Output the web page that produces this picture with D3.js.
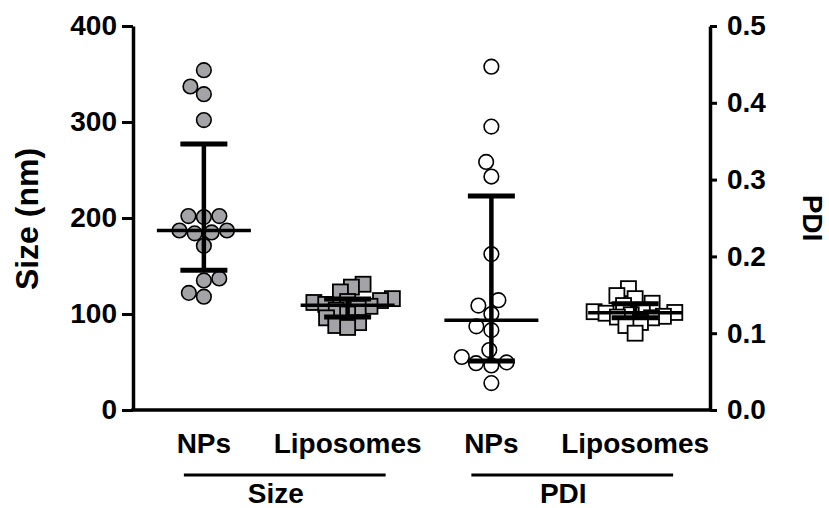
<!DOCTYPE html>
<html>
<head>
<meta charset="utf-8">
<script src="https://cdn.jsdelivr.net/npm/d3@7"></script>
<style>
    html, body { margin: 0; padding: 0; background: #fff; }
    svg text { font-family: "Liberation Sans", Arial, sans-serif; font-weight: bold; fill: #000; }
</style>
</head>
<body>
<svg id="chart" width="829" height="508"></svg>
<script>
// values
const categories = ["NPs", "Liposomes", "NPs", "Liposomes"];
const groups = ["Size", "PDI"];
const sizeNPs = [354, 337, 329, 302, 202, 202, 201, 187, 187, 185, 184, 171, 137, 135, 122, 118];
const sizeLiposomes = [131, 128, 123, 116, 114, 113, 112, 110, 108, 106, 104, 100, 96, 91, 88, 86];
const pdiNPs = [0.447, 0.369, 0.323, 0.304, 0.203, 0.143, 0.136, 0.125, 0.109, 0.104, 0.078, 0.069, 0.062, 0.061, 0.058, 0.035];
const pdiLiposomes = [0.158, 0.149, 0.145, 0.139, 0.136, 0.130, 0.128, 0.127, 0.126, 0.124, 0.122, 0.121, 0.120, 0.114, 0.110, 0.100];
const sizeTicks = [0, 100, 200, 300, 400];
const pdiTicks = [0, 0.1, 0.2, 0.3, 0.4, 0.5];

const svg = d3.select("#chart");

const x = d3.scalePoint().domain(d3.range(categories.length)).range([132, 707]).padding(0.5);
const ySize = d3.scaleLinear().domain([0, 400]).range([410, 26]);
const yPdi = d3.scaleLinear().domain([0, 0.5]).range([410, 26]);

const series = [
    { values: sizeNPs, y: ySize, shape: "circle", fill: "#a4a4a8" },
    { values: sizeLiposomes, y: ySize, shape: "square", fill: "#a4a4a8" },
    { values: pdiNPs, y: yPdi, shape: "circle", fill: "#fff" },
    { values: pdiLiposomes, y: yPdi, shape: "square", fill: "#fff" }
];

// quantile the way Prism does it: position (n + 1) * p
function quantile(values, p) {
    const s = values.slice().sort((a, b) => a - b),
        pos = (s.length + 1) * p - 1,
        lo = Math.max(0, Math.floor(pos)),
        hi = Math.min(s.length - 1, lo + 1);
    return s[lo] + (s[hi] - s[lo]) * (pos - lo);
}

// simple beeswarm, offsets in px from the category centre
function swarm(ys, dist) {
    const order = ys.map((y, i) => i).sort((a, b) => ys[b] - ys[a]),
        placed = [],
        out = new Array(ys.length);

    order.forEach(i => {
        const y = ys[i];
        const near = placed.filter(p => Math.abs(p.y - y) < dist);
        let cands = [0];
        near.forEach(p => {
            const w = Math.sqrt(dist * dist - (p.y - y) * (p.y - y));
            cands.push(p.x + w, p.x - w);
        });
        cands.sort((a, b) => Math.abs(a) - Math.abs(b) || a - b);
        const ok = cands.find(c => near.every(p => Math.hypot(p.x - c, p.y - y) >= dist - 0.01));
        out[i] = ok;
        placed.push({ x: ok, y: y });
    });
    return out;
}

const plot = svg.append("g");

series.forEach((s, k) => {
    const cx = x(k),
        ys = s.values.map(v => s.y(v)),
        dx = swarm(ys, s.shape === "circle" ? 15.5 : 12),
        g = plot.append("g");

    if (s.shape === "circle") {
        g.selectAll("circle").data(s.values).join("circle")
            .attr("cx", (d, i) => cx + dx[i])
            .attr("cy", d => s.y(d))
            .attr("r", 7.3)
            .attr("fill", s.fill)
            .attr("stroke", "#000")
            .attr("stroke-width", 1.6);
    } else {
        g.selectAll("rect").data(s.values).join("rect")
            .attr("x", (d, i) => cx + dx[i] - 7.5)
            .attr("y", d => s.y(d) - 7.5)
            .attr("width", 15)
            .attr("height", 15)
            .attr("fill", s.fill)
            .attr("stroke", "#000")
            .attr("stroke-width", 1.8);
    }

    // median with interquartile range
    const med = s.y(quantile(s.values, 0.5)),
        q1 = s.y(quantile(s.values, 0.25)),
        q3 = s.y(quantile(s.values, 0.75)),
        bars = plot.append("g").attr("stroke", "#000");

    bars.append("line").attr("x1", cx).attr("x2", cx).attr("y1", q1).attr("y2", q3).attr("stroke-width", 4.5);
    bars.append("line").attr("x1", cx - 23.5).attr("x2", cx + 23.5).attr("y1", q1).attr("y2", q1).attr("stroke-width", 5);
    bars.append("line").attr("x1", cx - 23.5).attr("x2", cx + 23.5).attr("y1", q3).attr("y2", q3).attr("stroke-width", 5);
    bars.append("line").attr("x1", cx - 47).attr("x2", cx + 47).attr("y1", med).attr("y2", med).attr("stroke-width", 3.5);
});

// axes
const axisL = svg.append("g")
    .attr("transform", "translate(133,0)")
    .call(d3.axisLeft(ySize).tickValues(sizeTicks).tickSize(11).tickPadding(5).tickSizeOuter(0));

const axisR = svg.append("g")
    .attr("transform", "translate(710,0)")
    .call(d3.axisRight(yPdi).tickValues(pdiTicks).tickSize(7).tickPadding(10).tickSizeOuter(0)
        .tickFormat(d3.format(".1f")));

[axisL, axisR].forEach(a => {
    a.select(".domain").attr("stroke-width", 3.5);
    a.selectAll(".tick line").attr("stroke-width", 3);
    a.selectAll(".tick text").style("font-size", "28px");
});

svg.append("line")
    .attr("x1", 133).attr("x2", 710)
    .attr("y1", 410).attr("y2", 410)
    .attr("stroke", "#000").attr("stroke-width", 3.5).attr("stroke-linecap", "square");

// axis titles
svg.append("text")
    .attr("transform", "translate(38,219) rotate(-90)")
    .attr("text-anchor", "middle")
    .style("font-size", "32px")
    .text("Size (nm)");

svg.append("text")
    .attr("transform", "translate(803,218) rotate(90)")
    .attr("text-anchor", "middle")
    .style("font-size", "28px")
    .text("PDI");

// category labels
svg.append("g").selectAll("text").data(categories).join("text")
    .attr("x", (d, i) => x(i))
    .attr("y", 453)
    .attr("text-anchor", "middle")
    .style("font-size", "28px")
    .text(d => d);

// group brackets
groups.forEach((name, j) => {
    const a = x(j * 2), b = x(j * 2 + 1);
    svg.append("line")
        .attr("x1", a - 20).attr("x2", b + 38)
        .attr("y1", 475).attr("y2", 475)
        .attr("stroke", "#000").attr("stroke-width", 3);
    svg.append("text")
        .attr("x", (a + b) / 2)
        .attr("y", 503)
        .attr("text-anchor", "middle")
        .style("font-size", "28px")
        .text(name);
});
</script>
</body>
</html>
